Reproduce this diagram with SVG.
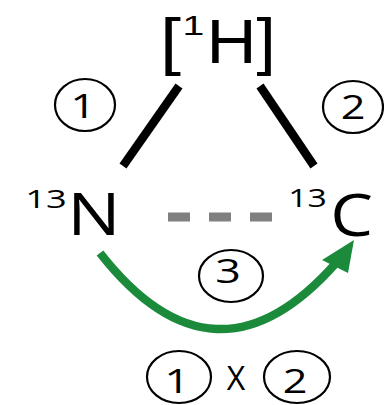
<svg xmlns="http://www.w3.org/2000/svg" width="384" height="405" viewBox="0 0 384 405">
  <defs>
    <style>
      text { font-family: "Open Sans", "Liberation Sans", sans-serif; fill: #000; text-anchor: middle; }
      .head { font-family: "Liberation Sans", "Open Sans", sans-serif; }
      .atom { font-size: 59px; }
      .sup { font-size: 25px; }
      .num { font-size: 32px; }
      .ring { fill: none; stroke: #000; stroke-width: 2.2; }
      .bond { stroke: #000; stroke-width: 8.5; stroke-linecap: butt; }
    </style>
  </defs>

  <!-- proton -->
  <g id="node-H">
    <text class="head" font-size="63" transform="translate(170.5,63) scale(1.2,1)">[</text>
    <text class="head" font-size="28" transform="translate(193.5,35) scale(1.4,1)">1</text>
    <text class="head" font-size="63" text-anchor="start" transform="translate(206.5,63) scale(1.1,1)" style="text-anchor:start">H]</text>
  </g>

  <!-- nitrogen -->
  <g id="node-N">
    <text class="sup" transform="translate(46,208) scale(1.45,1)">13</text>
    <text class="atom" transform="translate(94,235) scale(1.2,1)">N</text>
  </g>

  <!-- carbon -->
  <g id="node-C">
    <text class="sup" transform="translate(307.5,207) scale(1.35,1)">13</text>
    <text class="atom" font-size="60" transform="translate(351.5,236) scale(1.15,1)">C</text>
  </g>

  <!-- coupling labels -->
  <g id="label-1">
    <ellipse class="ring" cx="85" cy="105" rx="30" ry="26"/>
    <text class="num" transform="translate(83,118) scale(1.4,1)">1</text>
  </g>
  <g id="label-2">
    <ellipse class="ring" cx="353" cy="107" rx="30" ry="26"/>
    <text class="num" transform="translate(353,119) scale(1.35,1)">2</text>
  </g>
  <g id="label-3">
    <ellipse class="ring" cx="231" cy="276" rx="32" ry="26"/>
    <text class="num" font-size="30" transform="translate(228,283) scale(1.4,1)">3</text>
  </g>
  <g id="label-product">
    <ellipse class="ring" cx="179" cy="377" rx="32" ry="26"/>
    <text class="num" transform="translate(177,393) scale(1.4,1)">1</text>
    <text class="num" font-size="35" transform="translate(236,390)">X</text>
    <ellipse class="ring" cx="297" cy="377" rx="33" ry="26"/>
    <text class="num" transform="translate(295,393) scale(1.35,1)">2</text>
  </g>

  <!-- connectors -->
  <g id="connectors">
    <line class="bond" x1="179" y1="86" x2="123" y2="166"/>
    <line class="bond" x1="260" y1="86" x2="314" y2="166"/>
    <line x1="168" y1="217" x2="272" y2="217" stroke="#808080" stroke-width="9" stroke-dasharray="22 19"/>
    <path d="M100,253 Q215,400 336,263" fill="none" stroke="#1b8a3b" stroke-width="8.5"/>
    <polygon points="354,240 322,260 348,273" fill="#1b8a3b"/>
  </g>
</svg>
